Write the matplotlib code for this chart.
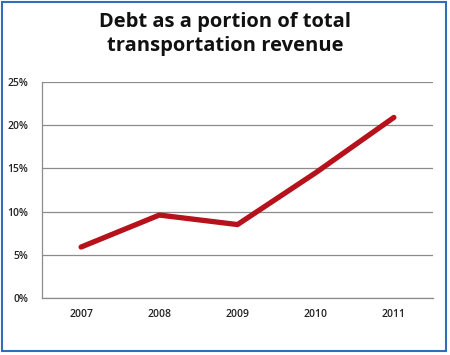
import matplotlib.pyplot as plt
from matplotlib.patches import Rectangle
from matplotlib.ticker import FuncFormatter

years = ["2007", "2008", "2009", "2010", "2011"]
debt_share = [5.9, 9.6, 8.5, 14.5, 20.9]
y_ticks = [0, 5, 10, 15, 20, 25]

plt.rcParams['font.family'] = ['Open Sans', 'DejaVu Sans']

fig = plt.figure(figsize=(4.5, 3.55), dpi=100)
# plot area in pixels: x 42..433, y 82..298 (from top)
ax = fig.add_axes([42 / 450, 1 - 298 / 355, (433 - 42) / 450, (298 - 82) / 355])

x = range(len(years))
ax.plot(x, debt_share, color="#B5121B", linewidth=3.8, solid_capstyle="round",
        solid_joinstyle="round", zorder=3)

ax.set_xlim(-0.5, len(years) - 0.5)
ax.set_ylim(0, 25)
ax.set_xticks(list(x))
ax.set_xticklabels(years, fontsize=7.5, fontweight="semibold", color="#222222")
ax.set_yticks(y_ticks)
ax.yaxis.set_major_formatter(FuncFormatter(lambda v, p: f"{int(v)}%"))
for lab in ax.get_yticklabels():
    lab.set_fontsize(7.5)
    lab.set_fontweight("semibold")
    lab.set_color("#222222")
ax.tick_params(length=0, pad=8)
ax.tick_params(axis="y", pad=10)

ax.grid(axis="y", color="#8c8c8c", linewidth=0.9)
ax.set_axisbelow(True)
for side in ["top", "right"]:
    ax.spines[side].set_visible(False)
for side in ["left", "bottom"]:
    ax.spines[side].set_color("#8c8c8c")
    ax.spines[side].set_linewidth(0.9)

fig.text(0.5, 1 - 34 / 355, "Debt as a portion of total\ntransportation revenue",
         ha="center", va="center", fontsize=14.5, fontweight="bold",
         color="#111111", linespacing=1.3)

# blue frame around the whole chart
fig.patches.append(Rectangle((2 / 450, 1 - 351 / 355), 444 / 450, 349 / 355,
                             transform=fig.transFigure, fill=False,
                             edgecolor="#2F6FBA", linewidth=1.5))

fig.savefig("out.png", dpi=100)
